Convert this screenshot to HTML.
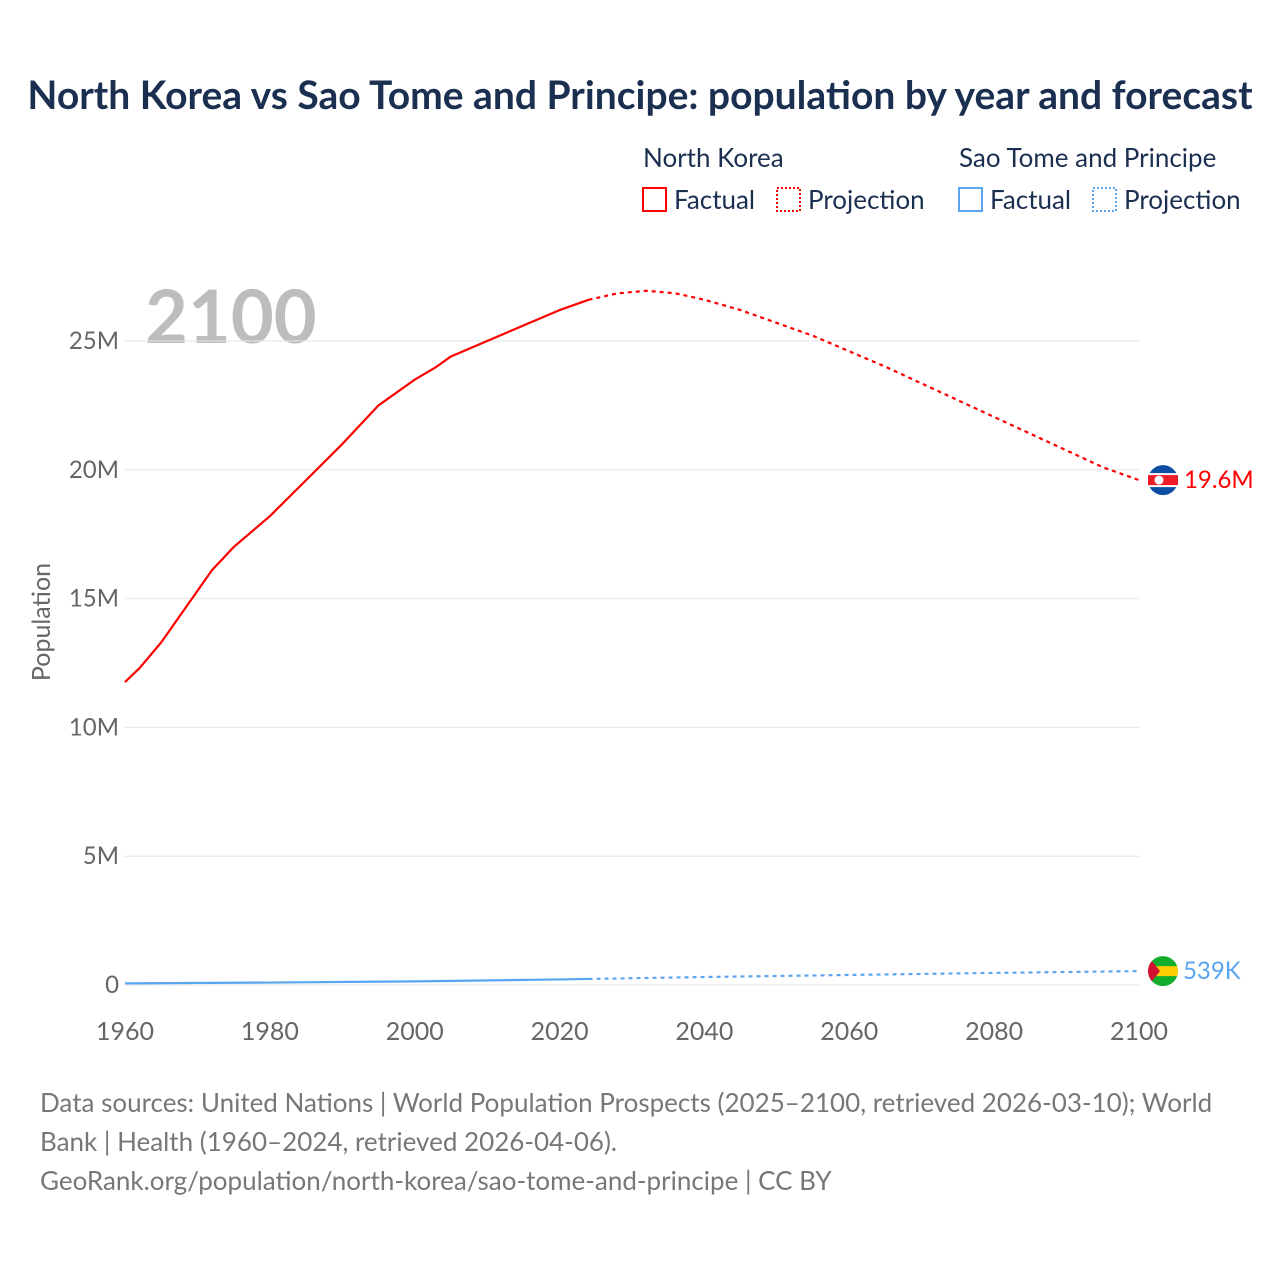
<!DOCTYPE html>
<html><head><meta charset="utf-8"><style>
body{margin:0;background:#fff;font-family:"Liberation Sans",sans-serif}
svg text{font-family:"Lato","Liberation Sans",sans-serif}
</style></head><body>
<svg width="1280" height="1280" viewBox="0 0 1280 1280" xmlns="http://www.w3.org/2000/svg">
<rect width="1280" height="1280" fill="#fff"/>
<text x="640" y="109" text-anchor="middle" font-size="39" font-weight="bold" fill="#1b2f50">North Korea vs Sao Tome and Principe: population by year and forecast</text>
<g font-size="26" fill="#1b2f50">
<text x="643" y="167">North Korea</text>
<text x="959" y="167">Sao Tome and Principe</text>
<g><rect x="643" y="188" width="23" height="23" fill="none" stroke="red" stroke-width="2"/><text x="674" y="209">Factual</text></g>
<g><rect x="777" y="188" width="23" height="23" fill="none" stroke="red" stroke-width="2" stroke-dasharray="2,2"/><text x="808" y="209">Projection</text></g>
<g><rect x="959" y="188" width="23" height="23" fill="none" stroke="#5aa5f0" stroke-width="2"/><text x="990" y="209">Factual</text></g>
<g><rect x="1093" y="188" width="23" height="23" fill="none" stroke="#5aa5f0" stroke-width="2" stroke-dasharray="2,2"/><text x="1124" y="209">Projection</text></g>
</g>
<text x="145" y="343" font-size="74" font-weight="bold" fill="#bdbdbd">2100</text>
<g id="grid"></g><g id="series"></g>
<text transform="translate(50,622) rotate(-90)" text-anchor="middle" font-size="25" fill="#666">Population</text>
<g font-size="26" fill="#777">
<text x="40" y="1112">Data sources: United Nations | World Population Prospects (2025–2100, retrieved 2026-03-10); World</text>
<text x="40" y="1151">Bank | Health (1960–2024, retrieved 2026-04-06).</text>
<text x="40" y="1190">GeoRank.org/population/north-korea/sao-tome-and-principe | CC BY</text>
</g>
</svg>
<script>
const yTicks=[0,5,10,15,20,25];
const xTicks=[1960,1980,2000,2020,2040,2060,2080,2100];
const nkYears=[1960,1962,1965,1968,1970,1972,1975,1980,1985,1990,1995,2000,2003,2005,2010,2015,2020,2024];
const nkValues=[11.76,12.3,13.3,14.5,15.3,16.1,17.0,18.2,19.6,21.0,22.5,23.5,24.0,24.4,25.0,25.6,26.2,26.6];
const nkProjYears=[2024,2028,2032,2036,2040,2045,2050,2055,2060,2065,2070,2075,2080,2085,2090,2095,2100];
const nkProjValues=[26.6,26.85,26.95,26.85,26.6,26.2,25.7,25.2,24.6,24.0,23.35,22.7,22.05,21.4,20.75,20.1,19.6];
const stpYears=[1960,1980,2000,2020,2024];
const stpValues=[0.064,0.095,0.142,0.215,0.235];
const stpProjYears=[2024,2040,2060,2080,2100];
const stpProjValues=[0.235,0.31,0.39,0.47,0.539];
const NS="http://www.w3.org/2000/svg";
const X=y=>125+(y-1960)*(1139-125)/140;
const Y=v=>985-v*(985-341)/25;
const grid=document.getElementById('grid'),ser=document.getElementById('series');
function mk(t,a,p){const e=document.createElementNS(NS,t);for(const k in a)e.setAttribute(k,a[k]);p.appendChild(e);return e;}
yTicks.forEach(v=>{
 const l=mk('line',{x1:125,x2:1139,y1:Y(v),y2:Y(v),stroke:'#e6e6e6','stroke-width':1},grid);
 
 
 const t=mk('text',{x:119,y:Y(v)+8,'text-anchor':'end','font-size':24,fill:'#666'},grid);t.textContent=v?v+'M':'0';
 
 
});
xTicks.forEach(v=>{
 const t=mk('text',{x:X(v),y:1040,'text-anchor':'middle','font-size':25,fill:'#666'},grid);t.textContent=v;
 
 
});
function line(xs,vs,col,dash,name){
 const p=mk('polyline',{points:xs.map((x,i)=>X(x)+','+Y(vs[i])).join(' '),fill:'none',stroke:col,'stroke-width':2.2,'stroke-linejoin':'round'},ser);
 if(dash)p.setAttribute('stroke-dasharray','4,4');
 
 
}
line(nkYears,nkValues,'red',false,'north-korea-factual-line');
line(nkProjYears,nkProjValues,'red',true,'north-korea-projection-line');
line(stpYears,stpValues,'#5aa5f0',false,'sao-tome-factual-line');
line(stpProjYears,stpProjValues,'#5aa5f0',true,'sao-tome-projection-line');
const nv=nkProjValues[nkProjValues.length-1],ny=Y(nv);
const f1=mk('g',{},ser);


mk('circle',{cx:1163,cy:ny,r:15,fill:'#0b4ea2'},f1);
mk('rect',{x:1148,y:ny-7,width:30,height:14,fill:'#fff'},f1);
mk('rect',{x:1148,y:ny-5,width:30,height:10,fill:'#ed1c27'},f1);
mk('circle',{cx:1159,cy:ny,r:4.5,fill:'#fff'},f1);
const t1=mk('text',{x:1184,y:ny+8,'font-size':24,fill:'red'},ser);t1.textContent=nv+'M';


const sv=stpProjValues[stpProjValues.length-1],sy=Y(sv);
const f2=mk('g',{},ser);


mk('clipPath',{id:'stpc'},f2);
mk('circle',{cx:1163,cy:sy,r:15},f2.querySelector('#stpc'));
const g2=mk('g',{'clip-path':'url(#stpc)'},f2);
mk('rect',{x:1148,y:sy-15,width:30,height:30,fill:'#12ad2b'},g2);
mk('rect',{x:1148,y:sy-5,width:30,height:10,fill:'#ffce00'},g2);
mk('path',{d:`M1148 ${sy-15}L1160 ${sy}L1148 ${sy+15}Z`,fill:'#d21034'},g2);
const t2=mk('text',{x:1183,y:sy+8,'font-size':24,fill:'#5aa5f0'},ser);t2.textContent=Math.round(sv*1000)+'K';


</script>
</body></html>
